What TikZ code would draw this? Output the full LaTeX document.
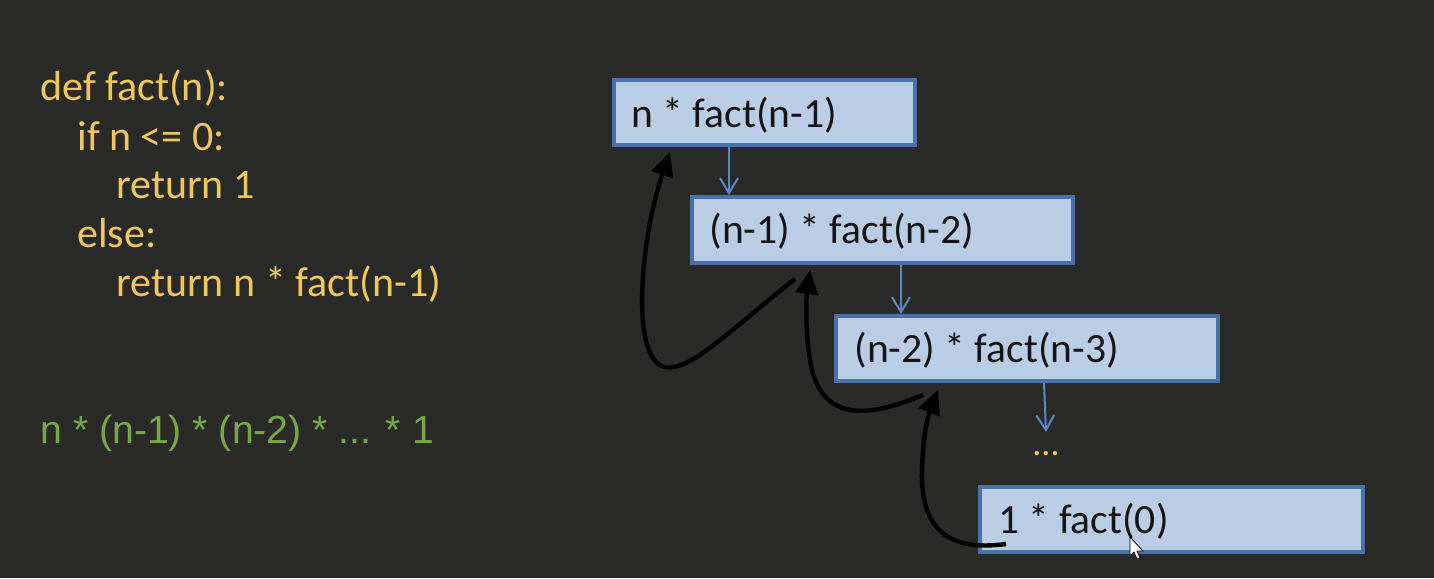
\documentclass[tikz,border=0pt]{standalone}
\usepackage{fontspec}
\setmainfont{Carlito}
\newfontfamily\arialfont{Liberation Sans}
\usetikzlibrary{arrows.meta}
\definecolor{bg}{HTML}{2A2B29}
\definecolor{codeyellow}{HTML}{F1C75B}
\definecolor{resgreen}{HTML}{77A844}
\definecolor{boxfill}{HTML}{B9CDE5}
\definecolor{boxedge}{HTML}{4A72AA}
\definecolor{flowblue}{HTML}{5A89C8}
\begin{document}
\begin{tikzpicture}[x=0.5pt,y=-0.5pt,
  codeline/.style={anchor=base west, inner sep=0pt, text=codeyellow,
    font=\fontsize{21}{25}\selectfont},
  frame/.style={draw=boxedge, fill=boxfill, line width=2pt, inner sep=0pt},
  boxtext/.style={anchor=base west, inner sep=0pt, text=black!92,
    font=\fontsize{20.8}{24}\selectfont},
  flow/.style={draw=flowblue, line width=1pt,
    -{Straight Barb[length=7.5pt,width=9pt,line width=1pt]}},
  back/.style={draw=black, line width=2.2pt,
    -{Triangle[length=12pt,width=11pt]}}]

% background and page frame
\fill[bg] (0,0) rectangle (1434,578);
\useasboundingbox (0,0) rectangle (1434,578);

% source code
\node[codeline] (c1) at (40,100) {def fact(n):};
\node[codeline] (c2) at (77,150) {if n <= 0:};
\node[codeline] (c3) at (116,198) {return 1};
\node[codeline] (c4) at (77,247) {else:};
\node[codeline] (c5) at (116,296) {return n * fact(n-1)};

% expanded product
\node[anchor=base west, inner sep=0pt, text=resgreen,
  font=\arialfont\fontsize{19.6}{24}\selectfont] (prod) at (40,443)
  {n * (n-1) * (n-2) * ... * 1};

% call frames
\node[frame, minimum width=150.5pt, minimum height=32.5pt] (b1) at (764.5,112.5) {};
\node[frame, minimum width=190.5pt, minimum height=33pt]   (b2) at (882.5,230) {};
\node[frame, minimum width=191pt,   minimum height=32.5pt] (b3) at (1027,348.5) {};
\node[frame, minimum width=191.5pt, minimum height=32.5pt] (b4) at (1171.5,519.5) {};

\node[boxtext] (t1) at (631,127) {n * fact(n-1)};
\node[boxtext] (t2) at (709,243.5) {(n-1) * fact(n-2)};
\node[boxtext] (t3) at (854,362) {(n-2) * fact(n-3)};
\node[boxtext] (t4) at (998,533) {1 * fact(0)};

\node[anchor=base, inner sep=0pt, text=codeyellow,
  font=\fontsize{18}{20}\selectfont] (dots) at (1046,455) {...};

% calls going down
\draw[flow] ([xshift=58.5pt]b1.south west) -- ([xshift=58.5pt]b1.south west |- b2.north);
\draw[flow] ([xshift=105.5pt]b2.south west) -- ([xshift=105.5pt]b2.south west |- b3.north);
\draw[flow] ([xshift=105pt]b3.south west) -- ([yshift=11.5pt]dots.base);

% results returned upwards
\coordinate (a0) at ([shift={(105,14)}]b2.south west);
\coordinate (a1) at ([shift={(58,5)}]b1.south west);
\coordinate (bb0) at ([shift={(89,12)}]b3.south west);
\coordinate (bb1) at ([shift={(120,5)}]b2.south west);
\coordinate (cc0) at ([shift={(28,-10)}]b4.south west);
\coordinate (cc1) at ([shift={(104,7)}]b3.south west);

\draw[back] (a0) .. controls (730,330) and (690,372) .. (665,367)
  .. controls (630,360) and (640,240) .. (a1);
\draw[back] (bb0) .. controls (870,417) and (825,422) .. (812,370)
  .. controls (805,340) and (806,300) .. (bb1);
\draw[back] (cc0) .. controls (960,550) and (920,540) .. (922,470)
  .. controls (923,430) and (930,410) .. (cc1);

% mouse pointer
\filldraw[fill=white, draw=black, line width=0.4pt, line join=round]
  (1130,537) -- (1130,556) -- (1134,552) -- (1137,559) -- (1140,558)
  -- (1137,551) -- (1143,551) -- cycle;
\end{tikzpicture}
\end{document}
